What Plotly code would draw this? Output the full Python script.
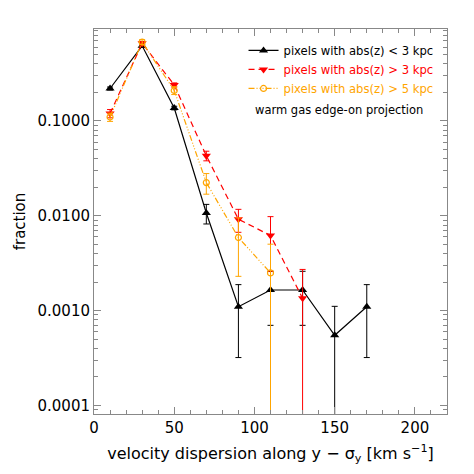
import plotly.graph_objects as go

# ---- data ----
x_black = [10, 30, 50, 70, 90, 110, 130, 150, 170]
y_black = [0.22, 0.62, 0.137, 0.0107, 0.0011, 0.00165, 0.00165, 0.00055, 0.0011]
e_black = [0.008, 0.02, 0.006, 0.0025, 0.00078, 0.00095, 0.00095, 0.00056, 0.00078]

x_red = [10, 30, 50, 70, 90, 110, 130]
y_red = [0.12, 0.66, 0.24, 0.043, 0.0092, 0.0062, 0.00135]
e_red = [0.012, 0.03, 0.012, 0.005, 0.0025, 0.0036, 0.00137]

x_orange = [10, 30, 50, 70, 90, 110]
y_orange = [0.11, 0.68, 0.21, 0.0224, 0.0059, 0.0025]
e_orange = [0.011, 0.04, 0.02, 0.0055, 0.0036, 0.00252]

names = ["pixels with abs(z) < 3 kpc", "pixels with abs(z) > 3 kpc", "pixels with abs(z) > 5 kpc"]
colors = ["#000000", "#FF0000", "#FFA500"]

y_tickvals = [1e-4, 1e-3, 1e-2, 1e-1]
y_ticktext = ["0.0001", "0.0010", "0.0100", "0.1000"]
x_tickvals = [0, 50, 100, 150, 200]

FONT = "DejaVu Sans"
AXC = "#888888"

fig = go.Figure()

fig.add_trace(go.Scatter(
    x=x_black, y=y_black, mode="lines+markers",
    name=f"<span style='color:{colors[0]}'>{names[0]}</span>",
    line=dict(color=colors[0], width=1.2),
    marker=dict(symbol="triangle-up", size=8, color=colors[0]),
    error_y=dict(type="data", array=e_black, color=colors[0], thickness=1, width=3),
))
fig.add_trace(go.Scatter(
    x=x_red, y=y_red, mode="lines+markers",
    name=f"<span style='color:{colors[1]}'>{names[1]}</span>",
    line=dict(color=colors[1], width=1.2, dash="6px,4px"),
    marker=dict(symbol="triangle-down", size=8, color=colors[1]),
    error_y=dict(type="data", array=e_red, color=colors[1], thickness=1, width=3),
))
fig.add_trace(go.Scatter(
    x=x_orange, y=y_orange, mode="lines+markers",
    name=f"<span style='color:{colors[2]}'>{names[2]}</span>",
    line=dict(color=colors[2], width=1.2, dash="6px,2px,1px,2px,1px,2px,1px,2px"),
    marker=dict(symbol="circle-open", size=6, color=colors[2], line=dict(width=1.2)),
    error_y=dict(type="data", array=e_orange, color=colors[2], thickness=1, width=3),
))

fig.add_annotation(
    x=0.694, y=0.79, xref="paper", yref="paper", xanchor="center", yanchor="middle",
    text="warm gas edge-on projection", showarrow=False,
    font=dict(family=FONT, size=11.5, color="black"),
)

axis_common = dict(
    showline=True, linecolor=AXC, linewidth=1, mirror="allticks",
    ticks="inside", tickcolor=AXC, showgrid=False, zeroline=False,
)

fig.update_xaxes(
    range=[0, 220], tickvals=x_tickvals, ticklen=7,
    minor=dict(dtick=10, ticks="inside", ticklen=4, tickcolor=AXC, showgrid=False),
    title=dict(text="velocity dispersion along y \u2212 \u03c3<sub>y</sub> [km s<sup>\u22121</sup>]",
               font=dict(family=FONT, size=16, color="black"), standoff=11),
    tickfont=dict(family=FONT, size=15, color="black"),
    **axis_common,
)
fig.update_yaxes(
    type="log", range=[-4.09, -0.03], tickvals=y_tickvals, ticktext=y_ticktext, ticklen=7,
    minor=dict(dtick="D1", ticks="inside", ticklen=4, tickcolor=AXC, showgrid=False),
    title=dict(text="fraction", font=dict(family=FONT, size=15, color="black"), standoff=8),
    tickfont=dict(family=FONT, size=15, color="black"),
    **axis_common,
)

fig.update_layout(
    width=466, height=466,
    margin=dict(l=86, r=27, t=21, b=60),
    paper_bgcolor="white", plot_bgcolor="white",
    showlegend=True,
    legend=dict(
        x=0.976, y=0.982, xanchor="right", yanchor="top",
        bgcolor="rgba(0,0,0,0)", font=dict(family=FONT, size=11.6),
        tracegroupgap=0, itemwidth=30,
    ),
)

fig.write_html("out.html")
